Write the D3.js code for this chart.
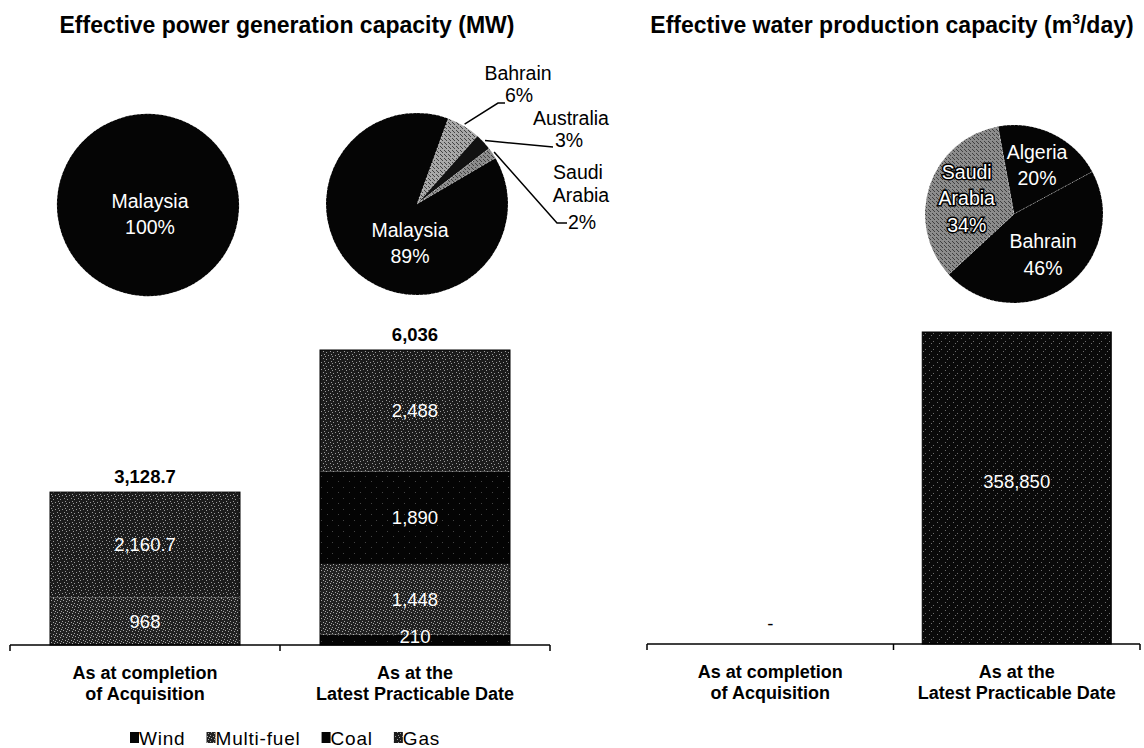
<!DOCTYPE html>
<html>
<head>
<meta charset="utf-8">
<script src="https://cdn.jsdelivr.net/npm/d3@7"></script>
<style>
  body { margin: 0; background: #fff; }
  text { font-family: "Liberation Sans", Arial, sans-serif; }
</style>
</head>
<body>
<div class="chart"></div>
<script>
// bar categories
let categories = ["completion", "latest"];
let categoryLines = [["As at completion", "of Acquisition"], ["As at the", "Latest Practicable Date"]];

// effective power generation capacity by fuel (MW), stacked bottom to top
let fuelTypes = ["Wind", "Multi-fuel", "Coal", "Gas"];
let windMW = [0, 210];
let multiFuelMW = [968, 1448];
let coalMW = [0, 1890];
let gasMW = [2160.7, 2488];

// effective water production capacity (m3/day)
let waterM3 = [0, 358850];

// country shares (%)
let powerBeforeCountries = ["Malaysia"];
let powerBeforeShares = [100];
let powerAfterCountries = ["Bahrain", "Australia", "Saudi Arabia", "Malaysia"];
let powerAfterShares = [6, 3, 2, 89];
let waterCountries = ["Algeria", "Bahrain", "Saudi Arabia"];
let waterShares = [20, 46, 34];


let svgWidth = 1144;
let svgHeight = 748;

let svg = d3.select(".chart")
  .append("svg")
  .attr("width", svgWidth)
  .attr("height", svgHeight);

let defs = svg.append("defs");

// scanned-look speckle fills
function speckle(id, base, dot, opacity, size, dots) {
  let p = defs.append("pattern")
    .attr("id", id)
    .attr("width", size)
    .attr("height", size)
    .attr("patternUnits", "userSpaceOnUse");
  p.append("rect").attr("width", size).attr("height", size).attr("fill", base);
  dots.forEach(d => {
    p.append("rect")
      .attr("x", d[0]).attr("y", d[1])
      .attr("width", 1).attr("height", 1)
      .attr("fill", dot).attr("opacity", opacity);
  });
}
speckle("sp-gas", "#1c1c1c", "#fff", 0.55, 7, [[1, 1], [4, 2], [2, 4], [6, 5], [3, 6]]);
speckle("sp-multi", "#222", "#fff", 0.6, 6, [[0, 1], [3, 0], [2, 3], [5, 4], [1, 5]]);
speckle("sp-black", "#040404", "#fff", 0.25, 11, [[2, 3], [8, 8]]);
speckle("sp-water", "#0a0a0a", "#fff", 0.4, 8, [[1, 2], [5, 5], [3, 7]]);
speckle("sp-light", "#a8a8a8", "#000", 0.6, 4, [[1, 0], [3, 2], [0, 3]]);
speckle("sp-grey", "#8c8c8c", "#000", 0.55, 4, [[0, 1], [2, 3], [3, 0]]);

let fuelFill = {
  "Wind": "url(#sp-black)",
  "Multi-fuel": "url(#sp-multi)",
  "Coal": "url(#sp-black)",
  "Gas": "url(#sp-gas)"
};

let fmt = d3.format(",");

// titles
svg.append("text")
  .attr("x", 287).attr("y", 33)
  .attr("text-anchor", "middle")
  .attr("font-size", 23).attr("font-weight", "bold")
  .text("Effective power generation capacity (MW)");

let waterTitle = svg.append("text")
  .attr("x", 892).attr("y", 33)
  .attr("text-anchor", "middle")
  .attr("font-size", 23).attr("font-weight", "bold");
waterTitle.append("tspan").text("Effective water production capacity (m");
waterTitle.append("tspan").attr("font-size", 14).attr("dy", -9).text("3");
waterTitle.append("tspan").attr("dy", 9).text("/day)");


// axis with ticks at band edges, and two-line category labels
function drawAxis(g, x, base) {
  let [x0, x1] = x.range();
  g.append("line")
    .attr("x1", x0).attr("x2", x1)
    .attr("y1", base).attr("y2", base)
    .attr("stroke", "#000").attr("stroke-width", 1.5);
  let edges = [x0].concat(categories.map(c => x(c) + x.bandwidth()));
  g.selectAll(".tick")
    .data(edges)
    .enter()
    .append("line")
    .attr("x1", d => d).attr("x2", d => d)
    .attr("y1", base).attr("y2", base + 6)
    .attr("stroke", "#000").attr("stroke-width", 1.5);
  categories.forEach((c, i) => {
    let t = g.append("text")
      .attr("x", x(c) + x.bandwidth() / 2)
      .attr("y", base + 34)
      .attr("text-anchor", "middle")
      .attr("font-size", 18).attr("font-weight", "bold");
    categoryLines[i].forEach((line, j) => {
      t.append("tspan")
        .attr("x", x(c) + x.bandwidth() / 2)
        .attr("dy", j === 0 ? 0 : 21)
        .text(line);
    });
  });
}


// ---------- power bars ----------
let powerRows = categories.map((c, i) => ({
  category: c,
  "Wind": windMW[i],
  "Multi-fuel": multiFuelMW[i],
  "Coal": coalMW[i],
  "Gas": gasMW[i]
}));
let powerTotals = powerRows.map(r => d3.sum(fuelTypes, k => r[k]));

let powerBase = 645;
let px = d3.scaleBand().domain(categories).range([10, 550]);
let py = d3.scaleLinear()
  .domain([0, d3.max(powerTotals)])
  .range([powerBase, 350]);
let powerBarW = 190;

let stacked = d3.stack().keys(fuelTypes)(powerRows);
let powerGroup = svg.append("g");

stacked.forEach(layer => {
  powerGroup.selectAll(null)
    .data(layer.filter(d => d[1] - d[0] > 0))
    .enter()
    .append("rect")
    .attr("x", d => px(d.data.category) + (px.bandwidth() - powerBarW) / 2)
    .attr("y", d => py(d[1]))
    .attr("width", powerBarW)
    .attr("height", d => py(d[0]) - py(d[1]))
    .attr("fill", fuelFill[layer.key]);
});

// outline each whole bar
powerGroup.selectAll(".outline")
  .data(powerRows)
  .enter()
  .append("rect")
  .attr("x", (d, i) => px(d.category) + (px.bandwidth() - powerBarW) / 2)
  .attr("y", (d, i) => py(powerTotals[i]))
  .attr("width", powerBarW)
  .attr("height", (d, i) => py(0) - py(powerTotals[i]))
  .attr("fill", "none")
  .attr("stroke", "#000");

stacked.forEach(layer => {
  powerGroup.selectAll(null)
    .data(layer.filter(d => d[1] - d[0] > 0))
    .enter()
    .append("text")
    .attr("x", d => px(d.data.category) + px.bandwidth() / 2)
    .attr("y", d => Math.min((py(d[0]) + py(d[1])) / 2, powerBase - 8))
    .attr("dy", "0.35em")
    .attr("text-anchor", "middle")
    .attr("font-size", 18.5)
    .attr("fill", "#fff")
    .text(d => fmt(d[1] - d[0]));
});

powerGroup.selectAll(".total")
  .data(powerTotals)
  .enter()
  .append("text")
  .attr("x", (d, i) => px(categories[i]) + px.bandwidth() / 2)
  .attr("y", d => py(d) - 9)
  .attr("text-anchor", "middle")
  .attr("font-size", 18.5).attr("font-weight", "bold")
  .text(d => fmt(d));

drawAxis(svg.append("g"), px, powerBase);


// ---------- water bars ----------
let waterBase = 644;
let wx = d3.scaleBand().domain(categories).range([647, 1140]);
let wy = d3.scaleLinear()
  .domain([0, d3.max(waterM3)])
  .range([waterBase, 332]);
let waterBarW = 189;

let waterGroup = svg.append("g");
waterGroup.selectAll("rect")
  .data(waterM3.filter(v => v > 0).map(v => ({ v: v, c: categories[waterM3.indexOf(v)] })))
  .enter()
  .append("rect")
  .attr("x", d => wx(d.c) + (wx.bandwidth() - waterBarW) / 2)
  .attr("y", d => wy(d.v))
  .attr("width", waterBarW)
  .attr("height", d => wy(0) - wy(d.v))
  .attr("fill", "url(#sp-water)")
  .attr("stroke", "#000");

waterGroup.selectAll("text")
  .data(waterM3)
  .enter()
  .append("text")
  .attr("x", (d, i) => wx(categories[i]) + wx.bandwidth() / 2)
  .attr("y", d => d > 0 ? (wy(0) + wy(d)) / 2 - 6 : waterBase - 20)
  .attr("dy", "0.35em")
  .attr("text-anchor", "middle")
  .attr("font-size", 18.5)
  .attr("fill", d => d > 0 ? "#fff" : "#000")
  .text(d => d > 0 ? fmt(d) : "-");

drawAxis(svg.append("g"), wx, waterBase);


// ---------- legend ----------
let legendFill = {
  "Wind": "#050505",
  "Multi-fuel": "url(#sp-multi)",
  "Coal": "#050505",
  "Gas": "url(#sp-gas)"
};
let legend = svg.append("g").attr("transform", "translate(130, 738)");
let lx = 0;
fuelTypes.forEach(k => {
  legend.append("rect")
    .attr("x", lx).attr("y", -6)
    .attr("width", 9).attr("height", 11)
    .attr("fill", legendFill[k]);
  let t = legend.append("text")
    .attr("x", lx + 9).attr("y", 0)
    .attr("dy", "0.35em")
    .attr("font-size", 19)
    .attr("letter-spacing", 0.8)
    .text(k);
  lx += 9 + t.node().getComputedTextLength() + 21;
});


// ---------- pies ----------
let deg = Math.PI / 180;

function drawPie(opts) {
  let g = svg.append("g").attr("transform", `translate(${opts.cx}, ${opts.cy})`);
  let pie = d3.pie().sort(null)
    .value(d => d.share)
    .startAngle(opts.start * deg)
    .endAngle(opts.start * deg + 2 * Math.PI);
  let slices = pie(opts.shares.map((s, i) => ({ country: opts.countries[i], share: s })));
  let arc = d3.arc().innerRadius(0).outerRadius(opts.r);
  let labelArc = d3.arc().innerRadius(opts.r * 0.56).outerRadius(opts.r * 0.56);

  g.selectAll("path")
    .data(slices)
    .enter()
    .append("path")
    .attr("d", arc)
    .attr("fill", d => opts.fills[d.data.country])
    .attr("stroke", "#fff")
    .attr("stroke-width", 0.6)
    .attr("stroke-dasharray", "1 3");

  slices.forEach(d => {
    let name = d.data.country;
    let lines = name.split(" ").concat([d.data.share + "%"]);
    if (opts.callouts && opts.callouts[name]) {
      let c = opts.callouts[name];
      let mid = (d.startAngle + d.endAngle) / 2;
      let p0 = [Math.sin(mid) * (opts.r + 2), -Math.cos(mid) * (opts.r + 2)];
      g.append("polyline")
        .attr("points", [p0].concat(c.path).map(p => p.join(",")).join(" "))
        .attr("fill", "none")
        .attr("stroke", "#000")
        .attr("stroke-width", 1.5);
      lines.forEach((line, j) => {
        g.append("text")
          .attr("x", c.text[j][0]).attr("y", c.text[j][1])
          .attr("text-anchor", "middle")
          .attr("font-size", 19.5)
          .text(line);
      });
      return;
    }
    let pos = opts.labelAt && opts.labelAt[name] ? opts.labelAt[name]
      : (d.endAngle - d.startAngle >= 2 * Math.PI - 1e-6 ? [0, 0] : labelArc.centroid(d));
    let t = g.append("text")
      .attr("text-anchor", "middle")
      .attr("font-size", 19.5)
      .attr("fill", "#fff");
    if (opts.halo && opts.halo[name]) {
      t.attr("stroke", "#000").attr("stroke-width", 3).attr("paint-order", "stroke");
    }
    let lh = 26.5;
    lines.forEach((line, j) => {
      t.append("tspan")
        .attr("x", pos[0])
        .attr("y", pos[1] + (j - (lines.length - 1) / 2) * lh)
        .attr("dy", "0.35em")
        .text(line);
    });
  });
}

drawPie({
  cx: 148, cy: 205, r: 91, start: 60,
  countries: powerBeforeCountries, shares: powerBeforeShares,
  fills: { "Malaysia": "#050505" },
  labelAt: { "Malaysia": [2, 9] }
});

drawPie({
  cx: 417, cy: 204, r: 91, start: 20,
  countries: powerAfterCountries, shares: powerAfterShares,
  fills: { "Malaysia": "#050505", "Bahrain": "url(#sp-light)", "Australia": "#111", "Saudi Arabia": "url(#sp-grey)" },
  labelAt: { "Malaysia": [-7, 39] },
  callouts: {
    "Bahrain": { path: [[81, -101], [88, -101]], text: [[101, -124], [102, -102]] },
    "Australia": { path: [[136, -57]], text: [[154, -79], [152, -57]] },
    "Saudi Arabia": { path: [[140, 19], [150, 19]], text: [[161, -25], [164, -2], [165, 25]] }
  }
});

drawPie({
  cx: 1014, cy: 214, r: 89, start: -10.4,
  countries: waterCountries, shares: waterShares,
  fills: { "Algeria": "#050505", "Bahrain": "#050505", "Saudi Arabia": "url(#sp-grey)" },
  halo: { "Saudi Arabia": true },
  labelAt: { "Algeria": [23, -49] }
});
</script>
</body>
</html>
